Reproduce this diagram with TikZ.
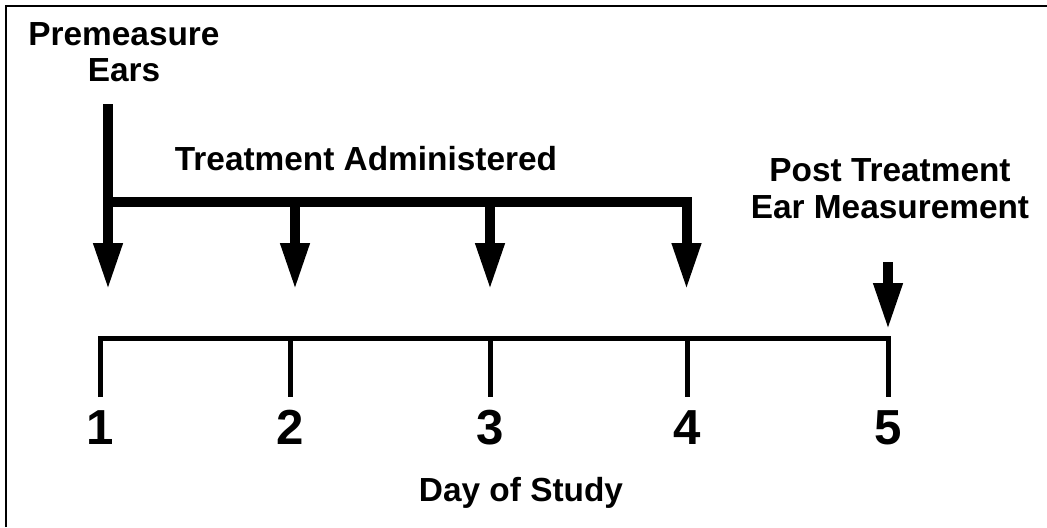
\documentclass[tikz,border=0pt]{standalone}
\usepackage{fontspec}
\setmainfont{Liberation Sans}
\usetikzlibrary{arrows.meta}
\tikzset{
        lbl/.style={font=\fontsize{19pt}{21pt}\selectfont\bfseries, align=center, inner sep=0pt},
        daylbl/.style={font=\fontsize{28pt}{30pt}\selectfont\bfseries, inner sep=0pt, anchor=north},
        axisline/.style={line width=0.1cm},
        bigarrow/.style={line width=0.2cm, -{Triangle[length=0.94cm, width=0.54cm]}},
        frameline/.style={line width=0.05cm},
    }
\begin{document}
\begin{tikzpicture}[x=0.02cm, y=-0.02cm]

        \useasboundingbox (0,0) rectangle (1047,527);
        \draw[frameline] (6,527) -- (6,6) -- (1047,6);

        % === DAY AXIS ===
        \foreach \i/\x in {1/100.5, 2/290.5, 3/490, 4/687, 5/888.5} {
            \coordinate (t\i) at (\x,338.5);
            \coordinate (b\i) at (\x,397);
            \node[daylbl] (d\i) at (\x,410) {\i};
        }
        \draw[axisline] (b1) -- (t1) -- (t5) -- (b5);
        \foreach \i in {2,3,4}
            \draw[axisline] (t\i) -- (b\i);
        \node[lbl, anchor=base] (day) at (521,501) {Day of Study};

        % === TREATMENT ARROWS ===
        \coordinate (s1) at (108,104);
        \coordinate (bar) at (108,202);
        \coordinate (a1) at (108,290);
        \coordinate (a2) at (295,290);
        \coordinate (a3) at (490,290);
        \coordinate (a4) at (686.5,290);
        \coordinate (s5) at (888,262);
        \coordinate (a5) at (888,330);

        \draw[bigarrow] (s1) -- (a1);
        \draw[bigarrow] (bar) -| (a4);
        \draw[bigarrow] (a2 |- bar) -- (a2);
        \draw[bigarrow] (a3 |- bar) -- (a3);
        \draw[bigarrow] (s5) -- (a5);

        % labels (base = baseline of the last line)
        \node[lbl, anchor=base] (premeasure) at (124,82) {Premeasure\\Ears};
        \node[lbl, anchor=base] (treat) at (366,170) {Treatment Administered};
        \node[lbl, anchor=base] (post) at (890,218) {Post Treatment\\Ear Measurement};

    \end{tikzpicture}
\end{document}
